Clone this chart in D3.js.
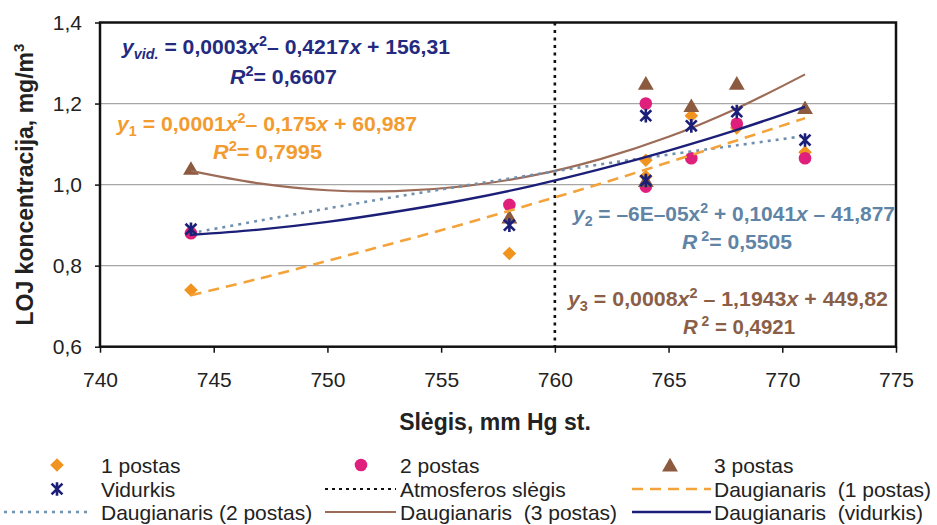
<!DOCTYPE html>
<html>
<head>
<meta charset="utf-8">
<script src="https://cdn.jsdelivr.net/npm/d3@7"></script>
<style>
  html, body { margin: 0; padding: 0; background: #ffffff; }
  svg { display: block; font-family: "Liberation Sans", Arial, sans-serif; }
</style>
</head>
<body>
<svg id="chart" width="937" height="525"></svg>
<script>
// Pressure (mm Hg) of each measurement
const pressure = [744, 758, 764, 764, 766, 768, 771];
// LOJ concentration, mg/m3, per station
const post1 = [0.74, 0.83, 1.06, 1.02, 1.17, 1.14, 1.08];
const post2 = [0.88, 0.95, 1.20, 0.995, 1.065, 1.15, 1.065];
const post3 = [1.04, 0.92, 1.25, 1.01, 1.195, 1.25, 1.19];
const average = [0.89, 0.90, 1.17, 1.01, 1.145, 1.18, 1.11];

// Polynomial trend lines sampled along the pressure range
const trendX = [744, 747, 750, 753, 756, 759, 762, 765, 768, 771];
const trend1 = [0.727, 0.768, 0.812, 0.857, 0.903, 0.952, 1.002, 1.055, 1.109, 1.164];
const trend2 = [0.880, 0.911, 0.941, 0.970, 0.997, 1.024, 1.050, 1.074, 1.097, 1.120];
const trend3 = [1.034, 1.003, 0.986, 0.984, 0.996, 1.022, 1.063, 1.118, 1.188, 1.272];
const trendAvg = [0.876, 0.889, 0.908, 0.933, 0.962, 0.997, 1.038, 1.084, 1.135, 1.192];

// Standard atmospheric pressure
const atmPressure = 760;

// Axis ticks
const xTicks = [740, 745, 750, 755, 760, 765, 770, 775];
const yTicks = [0.6, 0.8, 1.0, 1.2, 1.4];
const gridTicks = [0.8, 1.0, 1.2];

const C = {
  orange: "#f0931f", orangeLine: "#f4a23a", orangeText: "#f29b2f",
  magenta: "#e01f7d",
  brown: "#8c5a3e", brownLine: "#9d6c58", brownText: "#8b5f47",
  navy: "#1c1f78", navyText: "#232a80",
  steel: "#7190ad", steelText: "#5f84a6",
  grid: "#a6a6a6", axis: "#111111", text: "#222222"
};

const svg = d3.select("#chart");
const x = d3.scaleLinear().domain([740, 775]).range([100, 896]);
const y = d3.scaleLinear().domain([0.6, 1.4]).range([346.7, 22.5]);
const comma = d => d3.format(".1f")(d).replace(".", ",");

// gridlines
svg.append("g").selectAll("line").data(gridTicks).join("line")
  .attr("x1", x(740)).attr("x2", x(775))
  .attr("y1", d => y(d)).attr("y2", d => y(d))
  .attr("stroke", C.grid).attr("stroke-width", 1.2);

// axes
const yAxis = svg.append("g").attr("transform", `translate(${x(740)},0)`)
  .call(d3.axisLeft(y).tickValues(yTicks).tickSize(5).tickPadding(13).tickFormat(comma));
const xAxis = svg.append("g").attr("transform", `translate(0,${y(0.6)})`)
  .call(d3.axisBottom(x).tickValues(xTicks).tickSize(6).tickPadding(19).tickFormat(d3.format("d")));
[yAxis, xAxis].forEach(a => {
  a.select(".domain").remove();
  a.selectAll(".tick line").attr("stroke", C.axis).attr("stroke-width", 1.5);
  a.selectAll(".tick text").attr("fill", C.text).attr("font-size", 21)
    .attr("font-family", "'Liberation Sans', Arial, sans-serif");
});

// plot frame
svg.append("rect")
  .attr("x", x(740)).attr("y", y(1.4))
  .attr("width", x(775) - x(740)).attr("height", y(0.6) - y(1.4))
  .attr("fill", "none").attr("stroke", C.axis).attr("stroke-width", 2.5);

// atmospheric pressure marker
svg.append("line")
  .attr("x1", x(atmPressure)).attr("x2", x(atmPressure))
  .attr("y1", y(1.4)).attr("y2", y(0.6))
  .attr("stroke", "#111").attr("stroke-width", 2.6).attr("stroke-dasharray", "3,4.5");

// marker shapes
const shapes = {
  diamond: (s) => `M0,${-s}L${s},0L0,${s}L${-s},0Z`,
  circle: (s) => `M${s},0A${s},${s} 0 1,1 ${-s},0A${s},${s} 0 1,1 ${s},0Z`,
  triangle: (s) => `M0,${-s * 1.0}L${s * 1.1},${s * 0.9}L${-s * 1.1},${s * 0.9}Z`,
  star: (s) => `M${-s * 0.8},${-s * 0.8}L${s * 0.8},${s * 0.8}M${s * 0.8},${-s * 0.8}L${-s * 0.8},${s * 0.8}M0,${-s}L0,${s}`
};

function drawMarkers(values, shape, color, size) {
  const g = svg.append("g");
  g.selectAll("path").data(values).join("path")
    .attr("transform", (d, i) => `translate(${x(pressure[i])},${y(d)})`)
    .attr("d", shapes[shape](size))
    .attr("fill", shape === "star" ? "none" : color)
    .attr("stroke", shape === "star" ? color : "none")
    .attr("stroke-width", shape === "star" ? 2.6 : 0);
}
drawMarkers(post1, "diamond", C.orange, 6.8);
drawMarkers(post2, "circle", C.magenta, 6.3);
drawMarkers(post3, "triangle", C.brown, 7.2);

// trend lines
const line = d3.line().x((d, i) => x(trendX[i])).y(d => y(d)).curve(d3.curveCatmullRom);
function trend(values, color, width, dash) {
  svg.append("path").datum(values).attr("d", line)
    .attr("fill", "none").attr("stroke", color).attr("stroke-width", width)
    .attr("stroke-dasharray", dash || null);
}
trend(trend3, C.brownLine, 2.2);
trend(trend2, C.steel, 2.6, "3,5");
trend(trend1, C.orangeLine, 2.6, "11,7");
trend(trendAvg, C.navy, 2.4);

drawMarkers(average, "star", C.navy, 6.8);

// equation labels with sub/superscripts
function rich(xp, yp, anchor, color, size, width, parts) {
  const t = svg.append("text").attr("x", xp).attr("y", yp)
    .attr("text-anchor", anchor).attr("fill", color)
    .attr("font-size", size).attr("font-weight", "bold")
    .attr("textLength", width).attr("lengthAdjust", "spacingAndGlyphs")
    .style("white-space", "pre");
  let shift = 0;
  parts.forEach(([txt, kind]) => {
    let target = 0, fs = size, style = "normal";
    if (kind.includes("i")) style = "italic";
    if (kind.includes("b")) { target = 5; fs = size * 0.68; }
    if (kind.includes("p")) { target = -8; fs = size * 0.68; }
    t.append("tspan").attr("dy", target - shift).attr("font-size", fs)
      .attr("font-style", style).text(txt);
    shift = target;
  });
}

rich(122, 54, "start", C.navyText, 21, 328, [
  ["y", "i"], ["vid.", "ib"], [" = 0,0003", "n"], ["x", "i"], ["2", "p"],
  ["– 0,4217", "n"], ["x", "i"], [" + 156,31", "n"]]);
rich(230, 84, "start", C.navyText, 21, 107, [["R", "i"], ["2", "p"], ["= 0,6607", "n"]]);

rich(117, 131, "start", C.orangeText, 21, 300, [
  ["y", "i"], ["1", "b"], [" = 0,0001", "n"], ["x", "i"], ["2", "p"],
  ["– 0,175", "n"], ["x", "i"], [" + 60,987", "n"]]);
rich(213, 159, "start", C.orangeText, 21, 109, [["R", "i"], ["2", "p"], ["= 0,7995", "n"]]);

rich(573, 221, "start", C.steelText, 21, 322, [
  ["y", "i"], ["2", "b"], [" = –6E–05x", "n"], ["2", "p"],
  [" + 0,1041", "n"], ["x", "i"], [" – 41,877", "n"]]);
rich(682, 249, "start", C.steelText, 21, 110, [["R", "i"], [" 2", "p"], ["= 0,5505", "n"]]);

rich(568, 306, "start", C.brownText, 21, 320, [
  ["y", "i"], ["3", "b"], [" = 0,0008", "n"], ["x", "i"], ["2", "p"],
  [" – 1,1943", "n"], ["x", "i"], [" + 449,82", "n"]]);
rich(683, 334, "start", C.brownText, 21, 112, [["R", "i"], [" 2", "p"], [" = 0,4921", "n"]]);

// axis titles
svg.append("text")
  .attr("transform", `translate(33,${(y(0.6) + y(1.4)) / 2}) rotate(-90)`)
  .attr("text-anchor", "middle").attr("font-size", 23).attr("font-weight", "bold")
  .attr("fill", C.text)
  .call(t => {
    t.append("tspan").text("LOJ koncentracija, mg/m");
    t.append("tspan").attr("dy", -9).attr("font-size", 15).text("3");
  });
svg.append("text")
  .attr("x", 495).attr("y", 430)
  .attr("text-anchor", "middle").attr("font-size", 23).attr("font-weight", "bold")
  .attr("fill", C.text).text("Slėgis, mm Hg st.");

// legend
const legendItems = [
  { label: "1 postas", kind: "diamond", color: C.orange, col: 0, row: 0 },
  { label: "2 postas", kind: "circle", color: C.magenta, col: 1, row: 0 },
  { label: "3 postas", kind: "triangle", color: C.brown, col: 2, row: 0 },
  { label: "Vidurkis", kind: "star", color: C.navy, col: 0, row: 1 },
  { label: "Atmosferos slėgis", kind: "line", color: "#111", dash: "3,4", w: 2, col: 1, row: 1 },
  { label: "Daugianaris  (1 postas)", kind: "line", color: C.orangeLine, dash: "11,7", w: 2.6, col: 2, row: 1 },
  { label: "Daugianaris (2 postas)", kind: "line", color: C.steel, dash: "3,5", w: 2.4, col: 0, row: 2 },
  { label: "Daugianaris  (3 postas)", kind: "line", color: C.brownLine, w: 2.2, col: 1, row: 2 },
  { label: "Daugianaris  (vidurkis)", kind: "line", color: C.navy, w: 2.4, col: 2, row: 2 }
];
const colMarker = [57, 361, 670];
const colLine = [[4, 92], [325, 396], [632, 711]];
const colText = [101, 400, 714];
const rowY = [465, 489, 512];
const sizes = { diamond: 6.8, circle: 6.3, triangle: 7.2, star: 6.8 };

const lg = svg.append("g");
legendItems.forEach(it => {
  const cy = rowY[it.row];
  if (it.kind === "line") {
    lg.append("line")
      .attr("x1", colLine[it.col][0]).attr("x2", colLine[it.col][1])
      .attr("y1", cy).attr("y2", cy)
      .attr("stroke", it.color).attr("stroke-width", it.w)
      .attr("stroke-dasharray", it.dash || null);
  } else {
    lg.append("path")
      .attr("transform", `translate(${colMarker[it.col]},${cy})`)
      .attr("d", shapes[it.kind](sizes[it.kind]))
      .attr("fill", it.kind === "star" ? "none" : it.color)
      .attr("stroke", it.kind === "star" ? it.color : "none")
      .attr("stroke-width", it.kind === "star" ? 2.6 : 0);
  }
  lg.append("text")
    .attr("x", colText[it.col]).attr("y", cy).attr("dy", "0.36em")
    .attr("font-size", 21).attr("fill", C.text)
    .style("white-space", "pre").text(it.label);
});
</script>
</body>
</html>
